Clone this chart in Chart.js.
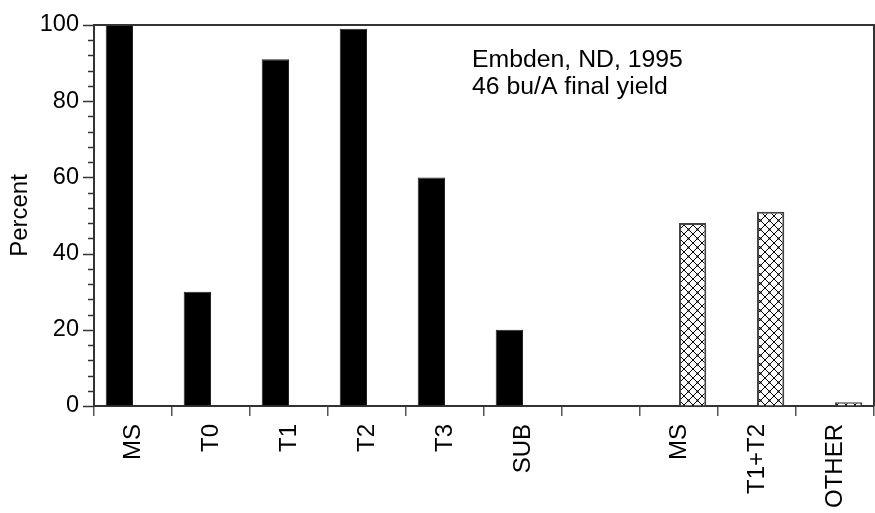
<!DOCTYPE html>
<html>
<head>
<meta charset="utf-8">
<script src="https://cdn.jsdelivr.net/npm/chart.js@4"></script>
<style>
  html, body { margin: 0; padding: 0; background: #fff; }
</style>
</head>
<body>
<canvas id="myChart" width="875" height="513"></canvas>
<script>
const labels = ["MS", "T0", "T1", "T2", "T3", "SUB", "", "MS", "T1+T2", "OTHER"];
const stageValues = [100, 30, 91, 99, 60, 20, null, null, null, null];
const sourceValues = [null, null, null, null, null, null, null, 48, 51, 1];
const noteLines = ["Embden, ND, 1995", "46 bu/A final yield"];

const FONT = "'Liberation Sans', Arial, Helvetica, sans-serif";

function makeHatch(ctx) {
  const s = 9;
  const c = document.createElement("canvas");
  c.width = s; c.height = s;
  const p = c.getContext("2d");
  p.fillStyle = "#fff";
  p.fillRect(0, 0, s, s);
  p.strokeStyle = "#000";
  p.lineWidth = 1;
  p.beginPath();
  p.moveTo(0, 0); p.lineTo(s, s);
  p.moveTo(s, 0); p.lineTo(0, s);
  p.stroke();
  p.fillStyle = "#000";
  p.fillRect(s / 2 - 1, s / 2 - 1, 2, 2);
  return ctx.createPattern(c, "repeat");
}

// frame, y ticks and the note text
const extras = {
  id: "extras",
  afterDraw(chart) {
    const { ctx, chartArea } = chart;
    const y = chart.scales.y;
    ctx.save();
    ctx.strokeStyle = "#333";
    ctx.lineWidth = 2;
    ctx.beginPath();
    ctx.moveTo(chartArea.left - 1, chartArea.top);
    ctx.lineTo(chartArea.right, chartArea.top);
    ctx.lineTo(chartArea.right, chartArea.bottom);
    ctx.stroke();

    ctx.lineWidth = 1.5;
    y.ticks.forEach(t => {
      const py = Math.round(y.getPixelForValue(t.value)) + 0.5;
      const len = t.value % 20 === 0 ? 11 : 6;
      ctx.beginPath();
      ctx.moveTo(chartArea.left - len, py);
      ctx.lineTo(chartArea.left, py);
      ctx.stroke();
    });

    ctx.fillStyle = "#000";
    ctx.font = "24.8px " + FONT;
    ctx.textBaseline = "alphabetic";
    noteLines.forEach((line, i) => {
      ctx.fillText(line, chartArea.left + 378, 67 + i * 27);
    });
    ctx.restore();
  }
};

const ctx = document.getElementById("myChart").getContext("2d");
const hatch = makeHatch(ctx);

new Chart(ctx, {
  type: "bar",
  data: {
    labels: labels,
    datasets: [
      {
        data: stageValues,
        backgroundColor: "#000",
        borderColor: "#222",
        borderWidth: 1,
        barPercentage: 1,
        categoryPercentage: 0.7
      },
      {
        data: sourceValues,
        backgroundColor: hatch,
        borderColor: "#444",
        borderWidth: 2,
        barPercentage: 1,
        categoryPercentage: 0.7
      }
    ]
  },
  options: {
    responsive: false,
    animation: false,
    devicePixelRatio: 1,
    layout: { padding: { top: 25, right: 1, left: 0, bottom: 0 } },
    plugins: { legend: { display: false }, tooltip: { enabled: false } },
    scales: {
      x: {
        grid: { offset: true, drawOnChartArea: false, tickLength: 10, color: "#555", lineWidth: 1.5 },
        border: { color: "#333", width: 2 },
        ticks: {
          minRotation: 90, maxRotation: 90, autoSkip: false, padding: 8,
          color: "#000", font: { size: 24, family: FONT }
        },
        afterFit(s) { s.height = 107; s.paddingLeft = 0; s.paddingRight = 0; }
      },
      y: {
        min: 0, max: 100,
        grid: { drawOnChartArea: false, drawTicks: false },
        border: { color: "#333", width: 2 },
        ticks: {
          stepSize: 4, autoSkip: false, padding: 15,
          color: "#000", font: { size: 23.5, family: FONT },
          callback: v => (v % 20 === 0 ? v : "")
        },
        title: {
          display: true, text: "Percent", color: "#000",
          font: { size: 24, family: FONT }, padding: { top: 6, bottom: 0 }
        },
        afterFit(s) { s.width = 94; s.paddingTop = 0; s.paddingBottom = 0; }
      }
    }
  },
  plugins: [extras]
});
</script>
</body>
</html>
